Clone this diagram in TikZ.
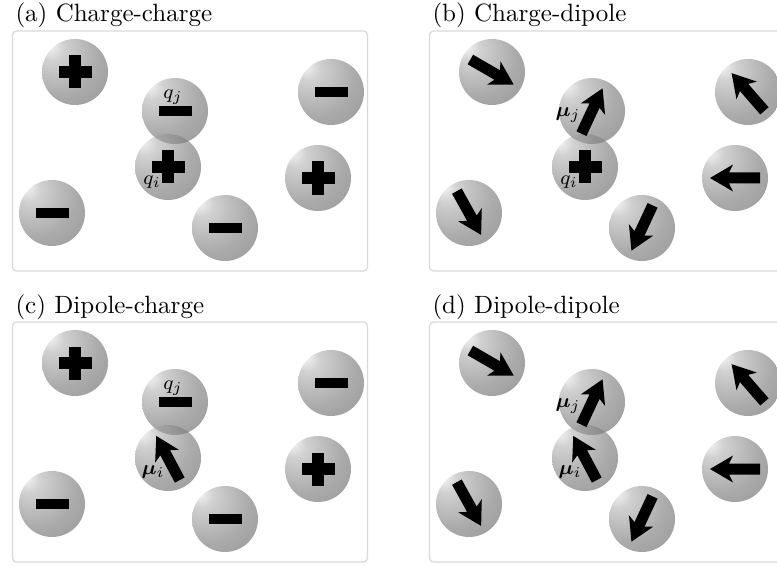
\documentclass[tikz,border=0pt]{standalone}
\usepackage{bm}
\pgfdeclareradialshading{sphere}{\pgfpoint{-20bp}{20bp}}{%
  color(0bp)=(black!4); color(9bp)=(black!18); color(30bp)=(black!33);
  color(55bp)=(black!43); color(80bp)=(black!52)}
\tikzset{
  sph/.style={shading=sphere},
  lens/.style={fill=black, fill opacity=0.2},
  panelframe/.style={draw=black!15, line width=0.5pt, rounded corners=1.6pt},
  lab/.style={font=\footnotesize, inner sep=0pt},
  ttl/.style={font=\normalsize, anchor=base west, inner sep=0pt},
  plus/.pic={\fill (-16.5,-6) rectangle (16.5,6); \fill (-6,-16.5) rectangle (6,16.5);},
  minus/.pic={\fill (-16.5,-5) rectangle (16.5,5);},
  dip/.pic={\fill (-25,-5.5) -- (6,-5.5) -- (2,-13.5) -- (25,0) -- (2,13.5) -- (6,5.5) -- (-25,5.5) -- cycle;},
}
\newcommand{\spheres}{%
  \foreach \p/\q in {75/72,331/92,318/178,52/213,225/228,175/111,168/167}
    \shade[sph] (\p,\q) circle[radius=33];
  \begin{scope}
    \clip (175,111) circle[radius=33];
    \fill[lens] (168,167) circle[radius=33];
  \end{scope}
  \draw[panelframe] (12.5,31) rectangle (367.5,271);
}
\begin{document}
\begin{tikzpicture}[x=0.4pt,y=-0.4pt]
\useasboundingbox (0,0) rectangle (777,565);
\clip (0,0) rectangle (777,565);
% (a)
\begin{scope}
  \node[ttl] (ta) at (15,22) {(a) Charge-charge};
  \spheres
  \pic at (75,72) {plus};
  \pic at (331,92) {minus};
  \pic at (318,178) {plus};
  \pic at (52,213) {minus};
  \pic at (225,228) {minus};
  \pic at (175,111) {minus};
  \pic at (168,167) {plus};
  \node[lab] (qja) at (173,97) {$q_j$};
  \node[lab] (qia) at (152,182) {$q_i$};
\end{scope}
% (b)
\begin{scope}[shift={(417,0)}]
  \node[ttl] (tb) at (15,22) {(b) Charge-dipole};
  \spheres
  \pic[rotate=-30] at (75,72) {dip};
  \pic[rotate=131] at (331,92) {dip};
  \pic[rotate=180] at (318,178) {dip};
  \pic[rotate=-61] at (52,213) {dip};
  \pic[rotate=-115] at (225,228) {dip};
  \pic[rotate=65] at (175,111) {dip};
  \pic at (168,167) {plus};
  \node[lab] (mjb) at (151,115) {$\bm{\mu}_j$};
  \node[lab] (qib) at (152,182) {$q_i$};
\end{scope}
% (c)
\begin{scope}[shift={(0,291)}]
  \node[ttl] (tc) at (15,22) {(c) Dipole-charge};
  \spheres
  \pic at (75,72) {plus};
  \pic at (331,92) {minus};
  \pic at (318,178) {plus};
  \pic at (52,213) {minus};
  \pic at (225,228) {minus};
  \pic at (175,111) {minus};
  \pic[rotate=118] at (168,167) {dip};
  \node[lab] (qjc) at (173,97) {$q_j$};
  \node[lab] (mic) at (153,181) {$\bm{\mu}_i$};
\end{scope}
% (d)
\begin{scope}[shift={(417,291)}]
  \node[ttl] (td) at (15,22) {(d) Dipole-dipole};
  \spheres
  \pic[rotate=-30] at (75,72) {dip};
  \pic[rotate=131] at (331,92) {dip};
  \pic[rotate=180] at (318,178) {dip};
  \pic[rotate=-61] at (52,213) {dip};
  \pic[rotate=-115] at (225,228) {dip};
  \pic[rotate=65] at (175,111) {dip};
  \pic[rotate=118] at (168,167) {dip};
  \node[lab] (mjd) at (151,115) {$\bm{\mu}_j$};
  \node[lab] (mid) at (153,181) {$\bm{\mu}_i$};
\end{scope}
\end{tikzpicture}
\end{document}
